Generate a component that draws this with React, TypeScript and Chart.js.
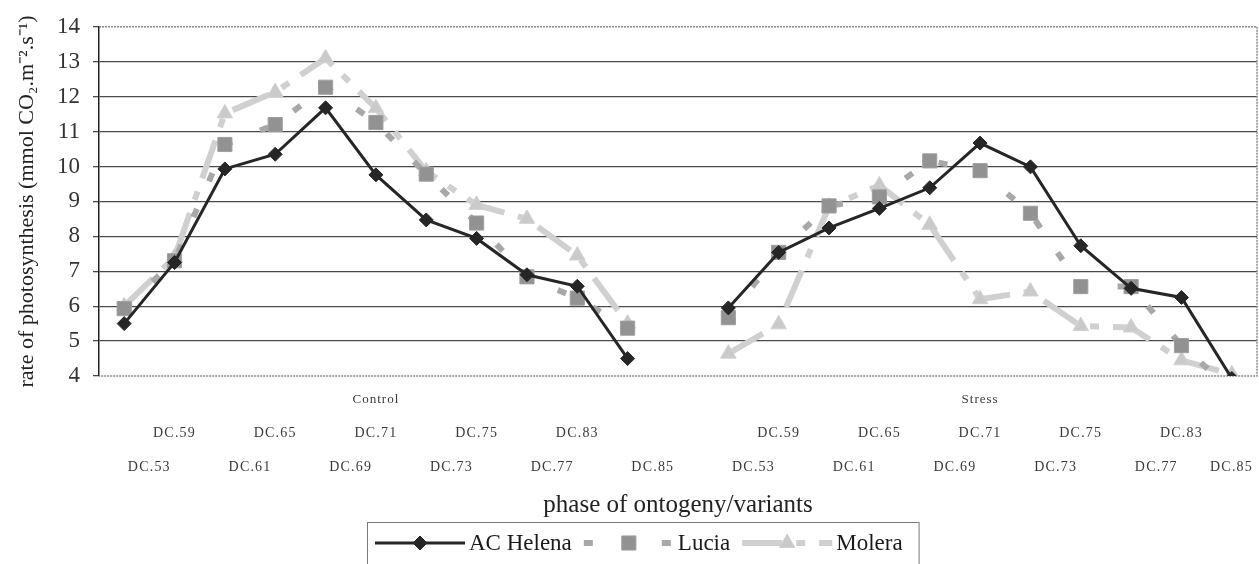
import React, { useEffect, useRef } from 'react';
import { Chart, registerables } from 'chart.js';
import { drawPoint } from 'chart.js/helpers';

Chart.register(...registerables);

const groups = ['Control', 'Stress'];
const phases = ['DC.53', 'DC.59', 'DC.61', 'DC.65', 'DC.69', 'DC.71', 'DC.73', 'DC.75', 'DC.77', 'DC.83', 'DC.85'];

const helenaControl = [5.5, 7.25, 9.93, 10.35, 11.68, 9.76, 8.47, 7.94, 6.9, 6.57, 4.5];
const helenaStress = [5.95, 7.54, 8.24, 8.8, 9.39, 10.67, 9.99, 7.73, 6.51, 6.25, 3.93];
const luciaControl = [5.93, 7.3, 10.63, 11.2, 12.27, 11.26, 9.78, 8.38, 6.84, 6.23, 5.37];
const luciaStress = [5.67, 7.54, 8.87, 9.13, 10.16, 9.88, 8.66, 6.56, 6.56, 4.87, 3.6];
const moleraControl = [6.0, 7.4, 11.52, 12.13, 13.1, 11.67, 9.86, 8.9, 8.5, 7.45, 5.5];
const moleraStress = [4.64, 5.48, 8.85, 9.46, 8.33, 6.2, 6.42, 5.43, 5.39, 4.45, 4.05];

const yMin = 4;
const yMax = 14;
const yStep = 1;

const yTitle = 'rate of photosynthesis (mmol CO\u2082.m\u207B\u00B2.s\u207B\u00B9)';
const xTitle = 'phase of ontogeny/variants';

const SERIF = '"Liberation Serif", "Times New Roman", serif';

function buildLabels(): string[] {
  const out: string[] = [];
  groups.forEach((g, gi) => {
    phases.forEach((p) => out.push(g + ' ' + p));
    if (gi < groups.length - 1) out.push('');
  });
  return out;
}

function join(a: number[], b: number[]) {
  return [...a, null, ...b];
}

const framePlugin = {
  id: 'frame',
  beforeDatasetsDraw(chart: any) {
    const { ctx, chartArea } = chart;
    const { left, top, right, bottom } = chartArea;
    ctx.save();
    ctx.strokeStyle = '#8a8a8a';
    ctx.lineWidth = 1.5;
    ctx.setLineDash([2, 1]);
    ctx.beginPath();
    ctx.moveTo(left, top);
    ctx.lineTo(right, top);
    ctx.lineTo(right, bottom);
    ctx.lineTo(left, bottom);
    ctx.stroke();
    ctx.restore();
  },
};

const axisLabelsPlugin = {
  id: 'axisLabels',
  afterDraw(chart: any) {
    const { ctx, chartArea } = chart;
    const x = chart.scales.x;
    const step = x.getPixelForValue(1) - x.getPixelForValue(0);
    ctx.save();
    ctx.textAlign = 'center';
    ctx.textBaseline = 'middle';
    ctx.fillStyle = '#3a3a3a';
    groups.forEach((g, gi) => {
      const base = gi * (phases.length + 1);
      ctx.font = '13px ' + SERIF;
      ctx.letterSpacing = '1px';
      ctx.fillText(g, x.getPixelForValue(base + Math.floor(phases.length / 2)), chartArea.bottom + 24);
      ctx.font = '14px ' + SERIF;
      ctx.letterSpacing = '1.2px';
      phases.forEach((p, i) => {
        let px = x.getPixelForValue(base + i);
        const upper = i % 2 === 1;
        if (!upper) px += step / 2;
        const w = ctx.measureText(p).width;
        px = Math.min(px, chart.width - w / 2 - 6);
        ctx.fillText(p, px, chartArea.bottom + (upper ? 57 : 91));
      });
    });
    ctx.letterSpacing = '0px';
    ctx.restore();
  },
};

const legendPlugin = {
  id: 'boxLegend',
  afterDraw(chart: any) {
    const { ctx } = chart;
    const sym = 90;
    const boxLeft = 367;
    const top = 522;
    const cy = 543;
    ctx.save();
    ctx.font = '23px ' + SERIF;
    const items = chart.data.datasets.map((ds: any) => ({ ds, w: ctx.measureText(ds.label).width }));
    let total = boxLeft + 8;
    items.forEach((it: any) => {
      total += sym + 4 + it.w + 12;
    });
    const boxRight = total + 4;
    ctx.fillStyle = '#ffffff';
    ctx.fillRect(boxLeft, top, boxRight - boxLeft, 60);
    ctx.strokeStyle = '#7a7a7a';
    ctx.lineWidth = 1;
    ctx.strokeRect(boxLeft + 0.5, top + 0.5, boxRight - boxLeft, 60);
    let x = boxLeft + 8;
    items.forEach(({ ds, w }: any) => {
      ctx.save();
      ctx.strokeStyle = ds.borderColor;
      ctx.lineWidth = ds.borderWidth;
      ctx.setLineDash(ds.borderDash || []);
      ctx.beginPath();
      ctx.moveTo(x, cy);
      ctx.lineTo(x + sym, cy);
      ctx.stroke();
      ctx.setLineDash([]);
      ctx.fillStyle = ds.pointBackgroundColor;
      ctx.strokeStyle = ds.pointBorderColor;
      ctx.lineWidth = 1;
      drawPoint(ctx, { pointStyle: ds.pointStyle, radius: ds.pointRadius, borderWidth: 1, rotation: 0 }, x + sym / 2, cy);
      ctx.restore();
      ctx.fillStyle = '#1a1a1a';
      ctx.textAlign = 'left';
      ctx.textBaseline = 'middle';
      ctx.fillText(ds.label, x + sym + 4, cy + 1);
      x += sym + 4 + w + 12;
    });
    ctx.restore();
  },
};

export default function App() {
  const ref = useRef<HTMLCanvasElement>(null);

  useEffect(() => {
    document.body.style.margin = '0';
    const canvas = ref.current;
    if (!canvas) return;
    const chart = new Chart(canvas, {
      type: 'line',
      data: {
        labels: buildLabels(),
        datasets: [
          {
            label: 'AC Helena',
            data: join(helenaControl, helenaStress),
            borderColor: '#262626',
            backgroundColor: '#262626',
            borderWidth: 3,
            pointStyle: 'rectRot',
            pointRadius: 7,
            pointBackgroundColor: '#262626',
            pointBorderColor: '#262626',
            pointBorderWidth: 1,
            spanGaps: false,
            tension: 0,
          },
          {
            label: 'Lucia',
            data: join(luciaControl, luciaStress),
            borderColor: '#a8a8a8',
            backgroundColor: '#909090',
            borderWidth: 6,
            borderDash: [9, 30],
            pointStyle: 'rect',
            pointRadius: 10,
            pointBackgroundColor: '#929292',
            pointBorderColor: '#a0a0a0',
            pointBorderWidth: 1,
            spanGaps: false,
            tension: 0,
            clip: 0,
          },
          {
            label: 'Molera',
            data: join(moleraControl, moleraStress),
            borderColor: '#d0d0d0',
            backgroundColor: '#d0d0d0',
            borderWidth: 6,
            borderDash: [40, 14, 9, 14],
            pointStyle: 'triangle',
            pointRadius: 9,
            pointBackgroundColor: '#cacaca',
            pointBorderColor: '#d2d2d2',
            pointBorderWidth: 1,
            spanGaps: false,
            tension: 0,
            clip: 0,
          },
        ],
      },
      options: {
        responsive: false,
        animation: false,
        layout: { autoPadding: false, padding: { top: 20, right: 2, left: 0, bottom: 0 } },
        plugins: {
          legend: { display: false },
          tooltip: { enabled: false },
        },
        scales: {
          x: {
            type: 'category',
            offset: true,
            grid: { display: false },
            border: { display: false },
            ticks: { display: false },
            title: {
              display: true,
              text: xTitle,
              color: '#222222',
              font: { family: SERIF, size: 25 },
              padding: { top: 0, bottom: 44 },
            },
            afterFit: (s: any) => {
              s.height = 188;
            },
          },
          y: {
            min: yMin,
            max: yMax,
            ticks: {
              stepSize: yStep,
              color: '#333333',
              font: { family: SERIF, size: 23 },
              padding: 13,
            },
            grid: {
              color: (c: any) => (c.tick && (c.tick.value === yMin || c.tick.value === yMax) ? 'rgba(0,0,0,0)' : '#4a4a4a'),
              tickColor: '#4a4a4a',
              tickLength: 6,
              lineWidth: 1.3,
            },
            border: { color: '#222222', width: 1.5 },
            title: {
              display: true,
              text: yTitle,
              color: '#222222',
              font: { family: SERIF, size: 22 },
              padding: { top: 14, bottom: 0 },
            },
            afterFit: (s: any) => {
              s.width = 99;
            },
          },
        },
      },
      plugins: [framePlugin, axisLabelsPlugin, legendPlugin],
    } as any);
    return () => chart.destroy();
  }, []);

  return (
    <div style={{ width: 1259, height: 564 }}>
      <canvas ref={ref} width={1259} height={564} style={{ display: 'block' }} />
    </div>
  );
}
